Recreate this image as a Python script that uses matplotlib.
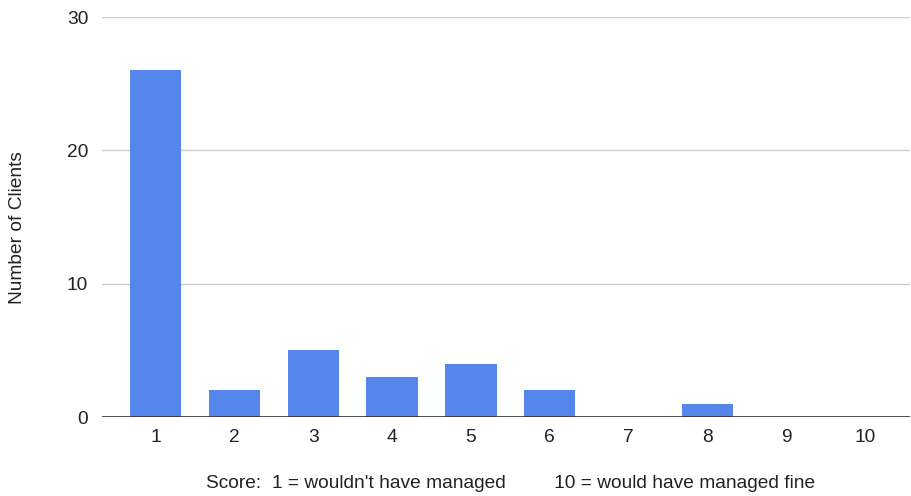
import matplotlib.pyplot as plt

plt.rcParams['font.family'] = ['Liberation Sans', 'DejaVu Sans']

scores = [1, 2, 3, 4, 5, 6, 7, 8, 9, 10]
clients = [26, 2, 5, 3, 4, 2, 0, 1, 0, 0]
y_ticks = [0, 10, 20, 30]

bar_color = '#5586ec'

fig = plt.figure(figsize=(9.11, 4.96), dpi=100)
ax = fig.add_axes([102 / 911, 1 - 417 / 496, 808 / 911, 400 / 496])

ax.bar(scores, clients, width=0.65, color=bar_color, zorder=3)

ax.set_xlim(0.32, 10.57)
ax.set_ylim(0, 30)
ax.set_yticks(y_ticks)
ax.set_xticks(scores)
ax.set_xticklabels([str(s) for s in scores])

ax.grid(axis='y', color='#cccccc', linewidth=1, zorder=0)
ax.axhline(0, color='#333333', linewidth=1.2, zorder=4)

for side in ['top', 'right', 'left', 'bottom']:
    ax.spines[side].set_visible(False)
ax.tick_params(axis='both', length=0, labelsize=13.8, colors='#222222')
ax.tick_params(axis='y', pad=10)
ax.tick_params(axis='x', pad=9)

fig.text(18 / 911, 1 - 228 / 496, 'Number of Clients', rotation=90,
         ha='center', va='center', fontsize=13.8, color='#222222')
fig.text(511 / 911, 1 - 483 / 496,
         "Score:  1 = wouldn't have managed         10 = would have managed fine",
         ha='center', va='center', fontsize=13.8, color='#222222')

fig.savefig('out.png', dpi=100)
